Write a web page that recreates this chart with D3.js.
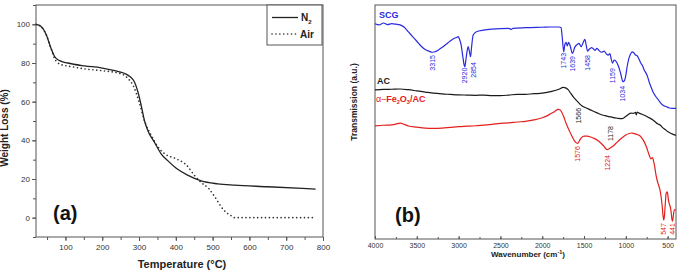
<!DOCTYPE html>
<html lang="en">
<head>
<meta charset="UTF-8">
<title>TGA and FTIR</title>
<style>
  body { margin: 0; background: #fff; }
  svg text { font-family: "Liberation Sans", Arial, sans-serif; }
</style>
</head>
<body>
<svg id="fig" width="679" height="270"></svg>
<script src="https://d3js.org/d3.v7.min.js"></script>
<script>
// ---- data: panel (a) TGA ----
var tgaTempN2 = [20, 33, 47, 61, 70, 84, 106, 152, 197, 234, 260, 275, 288, 297, 306, 315, 324, 342, 360, 378, 405, 432, 469, 514, 559, 650, 780];
var tgaN2     = [100, 99, 95, 87.5, 83.5, 81.2, 80, 78.5, 77.5, 76, 74.7, 73, 70, 65, 58, 50, 45, 39, 33, 29.5, 25, 22, 19, 17.5, 16.8, 16, 14.8];
var tgaTempAir = [20, 33, 47, 61, 70, 84, 120, 150, 200, 250, 270, 285, 300, 315, 335, 350, 370, 400, 430, 450, 470, 490, 505, 530, 550, 560, 780];
var tgaAir     = [100, 99, 95, 87.5, 82.5, 79.5, 78, 77, 76, 74.5, 72, 68, 60, 50, 42, 37, 33, 30.5, 27, 22, 18, 15, 11, 4, 1, 0, 0];

// ---- data: panel (b) FTIR ----
var wnSCG = [4000, 3950, 3900, 3850, 3800, 3750, 3700, 3650, 3600, 3550, 3500, 3450, 3400, 3350, 3315, 3280, 3250, 3200, 3150, 3100, 3050, 3020, 3005, 2990, 2970, 2950, 2935, 2925, 2915, 2900, 2885, 2870, 2857, 2845, 2826, 2787, 2700, 2600, 2400, 2370, 2350, 2200, 2000, 1900, 1800, 1775, 1760, 1743, 1730, 1715, 1700, 1685, 1665, 1639, 1610, 1580, 1560, 1535, 1510, 1490, 1475, 1458, 1440, 1410, 1390, 1370, 1345, 1320, 1290, 1260, 1230, 1210, 1190, 1175, 1159, 1140, 1120, 1090, 1060, 1034, 1015, 1000, 985, 965, 945, 925, 905, 885, 865, 845, 820, 800, 780, 760, 740, 720, 700, 670, 640, 610, 580, 550, 520, 480, 450, 400];
var trSCG = [92, 91.5, 92.3, 91.6, 92, 91.8, 91.5, 90.5, 88.5, 86.5, 84.5, 82.5, 81, 80.2, 79.8, 80, 80.6, 81.8, 83.2, 84.6, 85.8, 86.2, 86.5, 85.5, 83, 78, 74.5, 73.6, 76, 80, 82.2, 80, 77.9, 82, 87.2, 88.6, 89.3, 89.7, 90, 89.6, 90, 90.3, 90.5, 90.6, 90.6, 90.4, 86, 80, 83, 84, 82.5, 84, 82.5, 79.3, 82, 83.2, 83.6, 82.2, 84, 85.3, 83, 80.3, 81, 81.8, 81.3, 80.6, 81.5, 80.5, 79.8, 80.3, 79, 78.6, 79.2, 77, 75.1, 76.5, 76, 74, 70.5, 67.2, 67.8, 70, 73.5, 77, 79, 80, 79.6, 78.6, 78.3, 77, 75.1, 74, 72.2, 71, 69.4, 67, 65.1, 62.5, 60.8, 59.4, 58, 57, 56.6, 56, 55.8, 55.8];

var wnAC = [4000, 3900, 3800, 3700, 3600, 3500, 3400, 3300, 3200, 3100, 3000, 2900, 2800, 2700, 2600, 2500, 2400, 2300, 2200, 2100, 2000, 1900, 1800, 1750, 1720, 1690, 1660, 1630, 1600, 1566, 1540, 1500, 1450, 1400, 1350, 1300, 1250, 1200, 1150, 1100, 1060, 1030, 1000, 970, 940, 910, 885, 875, 865, 840, 800, 760, 720, 680, 650, 620, 590, 560, 530, 500, 470, 440, 420, 400];
var trAC = [63.7, 63.9, 64, 64.1, 63.8, 63.3, 62.8, 62.3, 62, 61.8, 61.6, 61.5, 61.4, 61.5, 61.3, 61.3, 61.5, 61.8, 61.8, 62.1, 62.3, 63, 64, 64.8, 64.6, 63.8, 62.3, 60.8, 59.6, 58.3, 57.3, 56.4, 55.6, 54.8, 54, 53.2, 52.7, 52.3, 51.9, 51.6, 51.4, 51.6, 52.4, 53.2, 53.8, 53.7, 54.1, 53, 54.2, 53.8, 53.2, 52.6, 51.8, 51, 50.1, 49.2, 48.7, 47.6, 46.8, 45.9, 45.3, 44.8, 44.5, 44.4];

var wnFe = [4000, 3900, 3800, 3750, 3700, 3650, 3600, 3500, 3400, 3300, 3200, 3100, 3000, 2900, 2800, 2700, 2600, 2500, 2400, 2300, 2200, 2100, 2000, 1950, 1900, 1850, 1810, 1790, 1770, 1740, 1710, 1680, 1650, 1620, 1600, 1576, 1555, 1530, 1500, 1460, 1420, 1380, 1340, 1300, 1260, 1240, 1224, 1200, 1160, 1120, 1080, 1040, 1000, 960, 930, 900, 870, 840, 810, 780, 750, 720, 700, 690, 680, 670, 655, 640, 625, 610, 595, 580, 565, 555, 547, 538, 528, 518, 508, 500, 490, 480, 470, 460, 449, 441, 432, 420, 410, 400];
var trFe = [48.3, 48.6, 48.8, 49.1, 49.5, 49, 48.3, 47.8, 47.4, 47.3, 47.4, 47.7, 48, 48.2, 48.4, 48.7, 49, 49.4, 49.6, 50, 50.3, 50.9, 51.8, 52.5, 53.5, 54.5, 55.4, 55.2, 54.4, 52, 49, 46.6, 44.3, 42.3, 41.3, 40.9, 42, 43.3, 44, 44, 43.6, 43, 42.2, 41, 39.6, 38.6, 38.2, 38.6, 39.5, 40.8, 42.2, 43.4, 44.4, 45.1, 45.3, 45, 44.7, 44.3, 43.2, 41.5, 39, 35.8, 34.2, 34.6, 34.8, 33.5, 31, 27.5, 25, 23.2, 21.5, 18.5, 14, 10, 8.1, 10, 15, 19.5, 20.2, 19.5, 16.5, 15, 14, 12, 8.5, 7.6, 10, 12.5, 12.4, 12.4];

// peak annotations: wavenumber, top of label (a.u.), sideways nudge (px)
var peaksSCG = [[3315, 78.6, 0], [2920, 73.2, -0.5], [2854, 75.6, 2.5], [1743, 79.5, 0], [1639, 78.2, 0.5], [1458, 78.6, 0], [1159, 73, 0], [1034, 65.4, 0]];
var peaksAC  = [[1566, 56, 0], [1178, 48.3, 0]];
var peaksFe  = [[1576, 39.7, 0], [1224, 35.9, 0], [547, 6.8, 0], [441, 6.8, 0]];

var svg = d3.select("#fig");
var grey = "#555";

// ================= panel (a) =================
var a = { l: 36, r: 323, t: 5, b: 237 };
var xA = d3.scaleLinear().domain([20, 800]).range([a.l, a.r]);
var yA = d3.scaleLinear().domain([-10, 110]).range([a.b, a.t]);
var gA = svg.append("g");

gA.append("rect").attr("x", a.l).attr("y", a.t).attr("width", a.r - a.l).attr("height", a.b - a.t)
  .attr("fill", "none").attr("stroke", grey).attr("stroke-width", 1);

// major + minor ticks
gA.append("g").attr("transform", "translate(0," + a.b + ")")
  .call(d3.axisBottom(xA).tickValues(d3.range(50, 801, 50)).tickSize(3).tickFormat(""))
  .call(function(g) { g.select(".domain").remove(); g.selectAll("line").attr("stroke", grey); });
gA.append("g").attr("transform", "translate(0," + a.b + ")")
  .call(d3.axisBottom(xA).tickValues(d3.range(100, 801, 100)).tickSize(4).tickPadding(3))
  .call(function(g) {
    g.select(".domain").remove();
    g.selectAll("line").attr("stroke", grey);
    g.selectAll("text").attr("font-size", 8).attr("fill", "#333");
  });
gA.append("g").attr("transform", "translate(" + a.l + ",0)")
  .call(d3.axisLeft(yA).tickValues(d3.range(-10, 111, 10)).tickSize(3).tickFormat(""))
  .call(function(g) { g.select(".domain").remove(); g.selectAll("line").attr("stroke", grey); });
gA.append("g").attr("transform", "translate(" + a.l + ",0)")
  .call(d3.axisLeft(yA).tickValues(d3.range(0, 101, 20)).tickSize(4).tickPadding(2))
  .call(function(g) {
    g.select(".domain").remove();
    g.selectAll("line").attr("stroke", grey);
    g.selectAll("text").attr("font-size", 8).attr("fill", "#333");
  });

var lineA = d3.line().curve(d3.curveMonotoneX);
var dots = "0.1,3.8";
gA.append("path")
  .attr("d", lineA(tgaTempAir.map(function(t, i) { return [xA(t), yA(tgaAir[i])]; })))
  .attr("fill", "none").attr("stroke", "#333").attr("stroke-width", 1.6)
  .attr("stroke-dasharray", dots).attr("stroke-linecap", "round");
gA.append("path")
  .attr("d", lineA(tgaTempN2.map(function(t, i) { return [xA(t), yA(tgaN2[i])]; })))
  .attr("fill", "none").attr("stroke", "#222").attr("stroke-width", 1.3);

// legend
var lg = gA.append("g").attr("transform", "translate(267,5)");
lg.append("rect").attr("width", 55).attr("height", 40).attr("fill", "#fff").attr("stroke", grey);
lg.append("line").attr("x1", 5).attr("x2", 31).attr("y1", 12.5).attr("y2", 12.5).attr("stroke", "#222").attr("stroke-width", 1.3);
lg.append("line").attr("x1", 5).attr("x2", 31).attr("y1", 29).attr("y2", 29).attr("stroke", "#333")
  .attr("stroke-width", 1.6).attr("stroke-dasharray", dots).attr("stroke-linecap", "round");
var n2 = lg.append("text").attr("x", 34).attr("y", 16).attr("font-size", 10).attr("font-weight", "bold").attr("fill", "#222").text("N");
n2.append("tspan").attr("font-size", 6).attr("dy", 2.5).text("2");
lg.append("text").attr("x", 33).attr("y", 32.5).attr("font-size", 10).attr("font-weight", "bold").attr("fill", "#222").text("Air");

gA.append("text").attr("x", 53).attr("y", 220).attr("font-size", 20).attr("font-weight", "bold")
  .attr("font-family", "Lato, 'Open Sans', sans-serif").attr("fill", "#111").text("(a)");
gA.append("text").attr("transform", "translate(8,128) rotate(-90)").attr("text-anchor", "middle")
  .attr("font-size", 10).attr("font-weight", "bold").attr("fill", "#222").text("Weight Loss (%)");
gA.append("text").attr("x", 182).attr("y", 268).attr("text-anchor", "middle")
  .attr("font-size", 11).attr("font-weight", "bold").attr("fill", "#222").text("Temperature (°C)");

// ================= panel (b) =================
var b = { l: 375, r: 676, t: 5, b: 239 };
var xB = d3.scaleLinear().domain([4000, 400]).range([b.l, b.r]);
var yB = d3.scaleLinear().domain([0, 100]).range([b.b, b.t]);
var gB = svg.append("g");

gB.append("rect").attr("x", b.l).attr("y", b.t).attr("width", b.r - b.l).attr("height", b.b - b.t)
  .attr("fill", "none").attr("stroke", grey).attr("stroke-width", 1);

gB.append("g").attr("transform", "translate(0," + b.b + ")")
  .call(d3.axisBottom(xB).tickValues(d3.range(3750, 400, -250)).tickSizeInner(-2).tickSizeOuter(0).tickFormat(""))
  .call(function(g) { g.select(".domain").remove(); g.selectAll("line").attr("stroke", grey); });
gB.append("g").attr("transform", "translate(0," + b.b + ")")
  .call(d3.axisBottom(xB).tickValues(d3.range(4000, 400, -500)).tickSizeInner(-3).tickSizeOuter(0)
    .tickPadding(4).tickFormat(d3.format("d")))
  .call(function(g) {
    g.select(".domain").remove();
    g.selectAll("line").attr("stroke", grey);
    g.selectAll("text").attr("font-size", 7).attr("fill", "#333");
  });

var lineB = d3.line().curve(d3.curveMonotoneX);
var spectra = [
  { wn: wnSCG, tr: trSCG, color: "#2a2ae0", peaks: peaksSCG },
  { wn: wnAC, tr: trAC, color: "#1a1a1a", peaks: peaksAC },
  { wn: wnFe, tr: trFe, color: "#e3201e", peaks: peaksFe }
];
spectra.forEach(function(s) {
  gB.append("path")
    .attr("d", lineB(s.wn.map(function(w, i) { return [xB(w), yB(s.tr[i])]; }).reverse()))
    .attr("fill", "none").attr("stroke", s.color).attr("stroke-width", 1.2);
  s.peaks.forEach(function(p) {
    gB.append("text")
      .attr("transform", "translate(" + (xB(p[0]) + 2.5 + p[2]) + "," + yB(p[1]) + ") rotate(-90)")
      .attr("text-anchor", "end").attr("font-size", 7).attr("fill", s.color).text(p[0]);
  });
});

gB.append("text").attr("x", 379).attr("y", 18).attr("font-size", 9).attr("font-weight", "bold").attr("fill", "#2a2ae0").text("SCG");
gB.append("text").attr("x", 377).attr("y", 84).attr("font-size", 9).attr("font-weight", "bold").attr("fill", "#1a1a1a").text("AC");
var fe = gB.append("text").attr("x", 376).attr("y", 102).attr("font-size", 9).attr("font-weight", "bold").attr("fill", "#e3201e");
fe.append("tspan").attr("font-weight", "normal").text("α–");
fe.append("tspan").text("Fe");
fe.append("tspan").attr("font-size", 5.5).attr("dy", 2).text("2");
fe.append("tspan").attr("dy", -2).text("O");
fe.append("tspan").attr("font-size", 5.5).attr("dy", 2).text("3");
fe.append("tspan").attr("dy", -2).text("/AC");

gB.append("text").attr("x", 395).attr("y", 222).attr("font-size", 20).attr("font-weight", "bold")
  .attr("font-family", "Lato, 'Open Sans', sans-serif").attr("fill", "#111").text("(b)");
gB.append("text").attr("transform", "translate(357,102) rotate(-90)").attr("text-anchor", "middle")
  .attr("font-size", 8.5).attr("font-weight", "bold").attr("fill", "#222").text("Transmission (a.u.)");
var xl = gB.append("text").attr("x", 528).attr("y", 257).attr("text-anchor", "middle")
  .attr("font-size", 8).attr("font-weight", "bold").attr("fill", "#222").text("Wavenumber (cm");
xl.append("tspan").attr("font-size", 5.5).attr("dy", -3).text("-1");
xl.append("tspan").attr("dy", 3).text(")");
</script>
</body>
</html>
